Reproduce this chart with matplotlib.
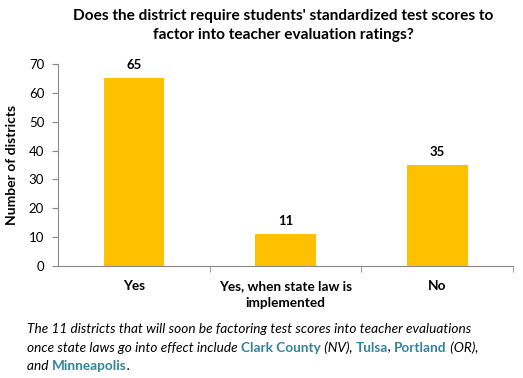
import matplotlib
matplotlib.use('Agg')
import matplotlib.pyplot as plt
import numpy as np

plt.rcParams['font.family'] = ['Lato', 'DejaVu Sans']

categories = ['Yes', 'Yes, when state law is\nimplemented', 'No']
values = [65, 11, 35]
yticks = [0, 10, 20, 30, 40, 50, 60, 70]

bar_color = '#FFC000'
axis_color = '#888888'
teal = '#31849B'

fig = plt.figure(figsize=(5.23, 3.78), dpi=100)
ax = fig.add_axes([0.111, 0.296, 0.870, 0.535])

x = np.arange(len(categories))
ax.bar(x, values, width=0.4, color=bar_color)
for xi, v in zip(x, values):
    ax.text(xi, v + 2.5, str(v), ha='center', va='bottom', fontsize=9.5, fontweight='bold')

ax.set_xlim(-0.5, len(categories) - 0.5)
ax.set_ylim(0, 70)
ax.set_yticks(yticks)
ax.tick_params(axis='y', direction='out', length=4, color=axis_color, labelsize=9.5, pad=6)

# category labels without ticks, ticks on boundaries
ax.set_xticks(x)
ax.set_xticklabels(categories, fontsize=9.8, fontweight='bold', linespacing=1.45, va='top')
ax.tick_params(axis='x', length=0, pad=10)
ax.set_xticks(np.arange(len(categories)) + 0.5, minor=True)
ax.tick_params(axis='x', which='minor', direction='out', length=4, color=axis_color)

for s in ['top', 'right']:
    ax.spines[s].set_visible(False)
for s in ['left', 'bottom']:
    ax.spines[s].set_color(axis_color)

ax.set_ylabel('Number of districts', fontsize=10, fontweight='bold', labelpad=8)

fig.text(0.541, 0.975, "Does the district require students' standardized test scores to\nfactor into teacher evaluation ratings?",
         ha='center', va='top', fontsize=11.1, fontweight='bold', linespacing=1.4)

# caption with mixed styles, pieces placed one after another on a shared baseline
lines = [
    [("The 11 districts that will soon be factoring test scores into teacher evaluations", False)],
    [("once state laws go into effect include ", False), ("Clark County", True), (" (NV), ", False),
     ("Tulsa", True), (", ", False), ("Portland", True), (" (OR),", False)],
    [("and ", False), ("Minneapolis", True), (".", False)],
]
line_y = [0.119, 0.070, 0.022]
renderer = fig.canvas.get_renderer()
for parts, yy in zip(lines, line_y):
    xx = 0.052
    for txt, bold in parts:
        kw = dict(fontsize=9.85, style='italic', va='baseline', ha='left', color='black')
        if bold:
            kw.update(fontweight='bold', color=teal, style='normal')
        t = fig.text(xx, yy, txt, **kw)
        bb = t.get_window_extent(renderer=renderer)
        xx += bb.width / fig.bbox.width

fig.savefig('out.png', dpi=100)
